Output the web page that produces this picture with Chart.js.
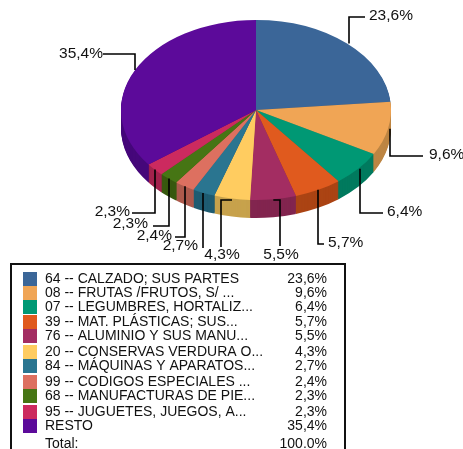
<!DOCTYPE html>
<html><head><meta charset="utf-8">
<style>html,body{margin:0;padding:0;background:#fff;overflow:hidden}canvas{display:block}</style>
<script src="https://cdn.jsdelivr.net/npm/chart.js@4"></script>
</head><body>
<div style="width:463px;height:449px"><canvas id="c" width="463" height="449"></canvas></div>
<script>
const categories = ["64 -- CALZADO; SUS PARTES","08 -- FRUTAS /FRUTOS, S/ ...","07 -- LEGUMBRES, HORTALIZ...","39 -- MAT. PLÁSTICAS; SUS...","76 -- ALUMINIO Y SUS MANU...","20 -- CONSERVAS VERDURA O...","84 -- MÁQUINAS Y APARATOS...","99 -- CODIGOS ESPECIALES ...","68 -- MANUFACTURAS DE PIE...","95 -- JUGUETES, JUEGOS, A...","RESTO"];
const values = [23.6,9.6,6.4,5.7,5.5,4.3,2.7,2.4,2.3,2.3,35.4];
const totalLabel = "Total:";
const totalValue = "100.0%";
const topColors = ["#3b6698","#f0a555","#009874","#e05a1e","#a32d62","#ffcc60","#2a7590","#dd7060","#467514","#cc2a5f","#5c0a9a"];
const sideColors = ["#2c4d72","#bd8543","#007a5e","#ab4414","#82254f","#c7a24c","#1f5c72","#ad5a4d","#38590f","#a3224c","#45077a"];

// layout only: elbows and label anchors of the leader lines
const leaders = [
 {path:[[349,17],[365,17]], label:[369,16,"left"]},
 {path:[[390,156],[423,156]], label:[429,155,"left"]},
 {path:[[360,213],[383,213]], label:[387,212,"left"]},
 {path:[[318,244],[324,244]], label:[328,243,"left"]},
 {path:[[280,200],[280,246]], label:[281,255,"center"]},
 {path:[[221,200],[221,247]], label:[222,255,"center"]},
 {path:[[203,248]], label:[198,246,"right"]},
 {path:[[185,237],[175,237]], label:[172,236,"right"]},
 {path:[[169,226],[153,226]], label:[148,224,"right"]},
 {path:[[155,213],[132,213]], label:[130,212,"right"]},
 {path:[[135,54],[103,54]], label:[103,54,"right"]}
];
const legendRows = [279,293,307,322,336,352,366,382,396,412,426];
const legendTotalRow = 444;
const swatchTops = [272,286,300,315,329,345,359,375,389,405,419];
const FONT = '"Liberation Sans", Arial, sans-serif';
const squash = 2/3, depth = 18, centerY = 110;

function pct(v){return v.toFixed(1).replace('.',',')+'%';}
function applyTilt(ctx,el){
  ctx.translate(el.x,centerY);ctx.scale(1,squash);ctx.translate(-el.x,-el.y);
}
const tilt = {
  id:'tilt',
  beforeDatasetDraw(chart,args){
    const ctx=chart.ctx, arcs=args.meta.data;
    ctx.save();
    applyTilt(ctx,arcs[0]);
    for(let d=depth;d>=1;d--){
      ctx.save();ctx.translate(0,d/squash);
      arcs.forEach((el,i)=>{
        const o=el.options;
        el.options={backgroundColor:sideColors[i],borderColor:sideColors[i],borderWidth:0,borderAlign:'center',offset:0,spacing:0,borderRadius:0,circular:true};
        el.draw(ctx);
        el.options=o;
      });
      ctx.restore();
    }
  },
  afterDatasetDraw(chart,args){
    const ctx=chart.ctx, arcs=args.meta.data;
    ctx.restore();
    ctx.save();
    // leader lines start on the rim at each slice's mid angle, axis-aligned to the first elbow
    ctx.strokeStyle='#000';ctx.lineWidth=1.6;ctx.fillStyle='#111';
    ctx.font='15.5px '+FONT;ctx.textBaseline='middle';
    arcs.forEach((el,i)=>{
      const mid=(el.startAngle+el.endAngle)/2;
      const ax=el.x+el.outerRadius*Math.cos(mid);
      const ay=centerY+el.outerRadius*squash*Math.sin(mid);
      const l=leaders[i], p0=l.path[0];
      const horizontalFirst=Math.abs(p0[1]-ay)<Math.abs(p0[0]-ax);
      ctx.beginPath();
      if(horizontalFirst) ctx.moveTo(ax,p0[1]); else ctx.moveTo(p0[0],ay);
      l.path.forEach(p=>ctx.lineTo(p[0],p[1]));
      ctx.stroke();
    });
    // labels above lines
    arcs.forEach((el,i)=>{
      const l=leaders[i];
      ctx.textAlign=l.label[2];
      ctx.fillText(pct(values[i]),l.label[0],l.label[1]);
    });
    ctx.restore();
    // legend table
    ctx.save();
    ctx.strokeStyle='#111';ctx.lineWidth=2;
    ctx.strokeRect(11,264,334,200);
    ctx.font='14px '+FONT;ctx.fillStyle='#111';ctx.textBaseline='middle';
    categories.forEach((c,i)=>{
      ctx.fillStyle=topColors[i];
      ctx.fillRect(23,swatchTops[i],14,14);
      ctx.fillStyle='#111';
      ctx.textAlign='left';ctx.fillText(c,45,legendRows[i]);
      ctx.textAlign='right';ctx.fillText(pct(values[i]),327,legendRows[i]);
    });
    ctx.textAlign='left';ctx.fillText(totalLabel,45,legendTotalRow);
    ctx.textAlign='right';ctx.fillText(totalValue,327,legendTotalRow);
    ctx.restore();
  }
};
new Chart(document.getElementById('c'),{
  type:'pie',
  data:{labels:categories,datasets:[{data:values,backgroundColor:topColors,borderWidth:0,clip:false}]},
  options:{
    responsive:false,animation:false,
    layout:{padding:{left:121,right:72,top:0,bottom:179}},
    plugins:{legend:{display:false},tooltip:{enabled:false}}
  },
  plugins:[tilt]
});
</script>
</body></html>
